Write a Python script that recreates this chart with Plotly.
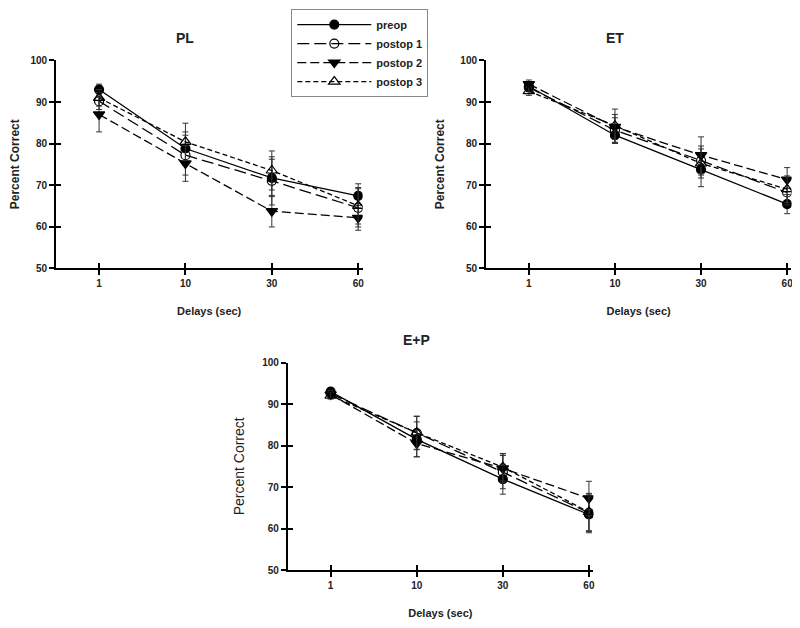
import plotly.graph_objects as go

delays = ["1", "10", "30", "60"]
series_names = ["preop", "postop 1", "postop 2", "postop 3"]

# PL panel
pl_preop = [93.0, 78.8, 71.7, 67.4]
pl_post1 = [90.2, 77.2, 71.0, 64.5]
pl_post2 = [87.0, 75.2, 63.7, 62.1]
pl_post3 = [91.0, 80.4, 73.5, 65.0]
pl_preop_err = [1.3, 4.0, 4.5, 2.9]
pl_post1_err = [2.0, 4.8, 5.8, 4.6]
pl_post2_err = [4.2, 4.3, 3.8, 3.0]
pl_post3_err = [2.0, 4.5, 4.7, 4.4]

# ET panel
et_preop = [93.8, 82.0, 73.7, 65.4]
et_post1 = [93.5, 83.2, 75.9, 68.2]
et_post2 = [94.3, 84.0, 77.2, 71.3]
et_post3 = [92.6, 84.3, 75.2, 69.0]
et_preop_err = [1.0, 2.0, 4.1, 2.3]
et_post1_err = [1.0, 3.0, 3.5, 3.0]
et_post2_err = [1.0, 3.0, 4.4, 2.9]
et_post3_err = [1.0, 4.0, 3.5, 3.2]

# E+P panel
ep_preop = [93.0, 81.5, 71.9, 63.4]
ep_post1 = [92.5, 83.0, 73.6, 63.8]
ep_post2 = [92.3, 80.5, 74.5, 67.3]
ep_post3 = [92.0, 83.1, 74.8, 64.0]
ep_preop_err = [0.8, 4.2, 3.6, 4.4]
ep_post1_err = [0.8, 4.0, 4.0, 4.5]
ep_post2_err = [0.8, 3.2, 3.5, 4.1]
ep_post3_err = [0.8, 4.0, 3.3, 4.5]

y_ticks = [50, 60, 70, 80, 90, 100]

W, H = 800, 628
OFF = 8  # page body margin offset


def PX(px):
    return (px - OFF) / W


def PY(py):
    return 1 - (py - OFF) / H


FONT = "Liberation Sans, Arial, sans-serif"
BOLD_FONT = dict(family=FONT, size=10, color="#222", weight="bold")

styles = [
    dict(dash="solid", symbol="circle", size=9),
    dict(dash="12px,5px", symbol="circle-open", size=9),
    dict(dash="9px,4px", symbol="triangle-down", size=10),
    dict(dash="5px,3px", symbol="triangle-up-open", size=10),
]

xpos = list(range(len(delays)))

fig = go.Figure()

panels = [
    ("x", "y", [pl_preop, pl_post1, pl_post2, pl_post3],
     [pl_preop_err, pl_post1_err, pl_post2_err, pl_post3_err], True),
    ("x2", "y2", [et_preop, et_post1, et_post2, et_post3],
     [et_preop_err, et_post1_err, et_post2_err, et_post3_err], False),
    ("x3", "y3", [ep_preop, ep_post1, ep_post2, ep_post3],
     [ep_preop_err, ep_post1_err, ep_post2_err, ep_post3_err], False),
]

for xa, ya, vals, errs, show in panels:
    for name, v, e, st in zip(series_names, vals, errs, styles):
        fig.add_trace(go.Scatter(
            x=xpos, y=v, name=name, legendgroup=name, showlegend=show,
            xaxis=xa, yaxis=ya, mode="lines+markers",
            line=dict(color="black", width=1.3, dash=st["dash"]),
            marker=dict(symbol=st["symbol"], size=st["size"], color="black",
                        line=dict(color="black", width=1.2)),
            error_y=dict(type="data", array=e, visible=True, color="#333",
                         thickness=1, width=3),
        ))

# empty traces to host overlay axes (inside tick parts)
for xa, ya in [("x4", "y4"), ("x5", "y5"), ("x6", "y6")]:
    fig.add_trace(go.Scatter(x=[], y=[], xaxis=xa, yaxis=ya, showlegend=False,
                             hoverinfo="skip"))

xr = [-0.5, 3.05]
domains = {
    1: dict(x=[PX(56), PX(363.4)], y=[PY(267), PY(55.4)]),
    2: dict(x=[PX(487), PX(793.4)], y=[PY(267), PY(55.4)]),
    3: dict(x=[PX(288.3), PX(594.7)], y=[PY(575), PY(363.3)]),
}

layout = dict(
    width=W, height=H, margin=dict(l=0, r=0, t=0, b=0),
    plot_bgcolor="white", paper_bgcolor="white",
    font=dict(family=FONT, color="#222"),
    showlegend=True,
    legend=dict(x=PX(292), y=PY(3), xanchor="left", yanchor="top",
                bordercolor="#888", borderwidth=1, bgcolor="white",
                font=dict(family=FONT, size=11, color="#222", weight="bold"),
                itemwidth=74, tracegroupgap=0,
                entrywidth=160, entrywidthmode="pixels"),
)

for i in (1, 2, 3):
    sx = "" if i == 1 else str(i)
    d = domains[i]
    ytitle_font = dict(family=FONT, size=12, color="#222", weight="bold")
    ystand = 13
    if i == 3:
        ytitle_font = dict(family=FONT, size=14, color="#222", weight="normal")
        ystand = 14
    layout["xaxis" + sx] = dict(
        domain=d["x"], anchor="y" + sx, range=xr, tickvals=xpos, ticktext=delays,
        showline=True, linecolor="black", linewidth=1.5, ticks="outside",
        ticklen=5, tickwidth=1.5, tickcolor="black", showgrid=False,
        zeroline=False, tickfont=BOLD_FONT, fixedrange=True,
        title=dict(text="Delays (sec)", standoff=19,
                   font=dict(family=FONT, size=11, color="#222", weight="bold")),
    )
    layout["yaxis" + sx] = dict(
        domain=d["y"], anchor="x" + sx, range=[50, 100], tickvals=y_ticks,
        showline=True, linecolor="black", linewidth=1.5, ticks="outside",
        ticklen=5, tickwidth=1.5, tickcolor="black", showgrid=False,
        zeroline=False, tickfont=BOLD_FONT, fixedrange=True,
        title=dict(text="Percent Correct", standoff=ystand, font=ytitle_font),
    )
    ox = str(i + 3)
    layout["xaxis" + ox] = dict(
        overlaying="x" + sx, anchor="y" + ox, range=xr, tickvals=xpos,
        showticklabels=False, showline=False, ticks="inside", ticklen=5,
        tickwidth=1.5, tickcolor="black", showgrid=False, zeroline=False,
        fixedrange=True,
    )
    layout["yaxis" + ox] = dict(
        overlaying="y" + sx, anchor="x" + ox, range=[50, 100], tickvals=y_ticks,
        showticklabels=False, showline=False, ticks="inside", ticklen=5,
        tickwidth=1.5, tickcolor="black", showgrid=False, zeroline=False,
        fixedrange=True,
    )

fig.update_layout(**layout)

titles = [("PL", "x", PY(32)), ("ET", "x2", PY(32)), ("E+P", "x3", PY(340))]
for text, xref, yp in titles:
    fig.add_annotation(text=text, x=1, xref=xref, y=yp, yref="paper",
                       showarrow=False, xanchor="center", yanchor="middle",
                       font=dict(family=FONT, size=14, color="#222", weight="bold"))

fig.write_html("out.html")
